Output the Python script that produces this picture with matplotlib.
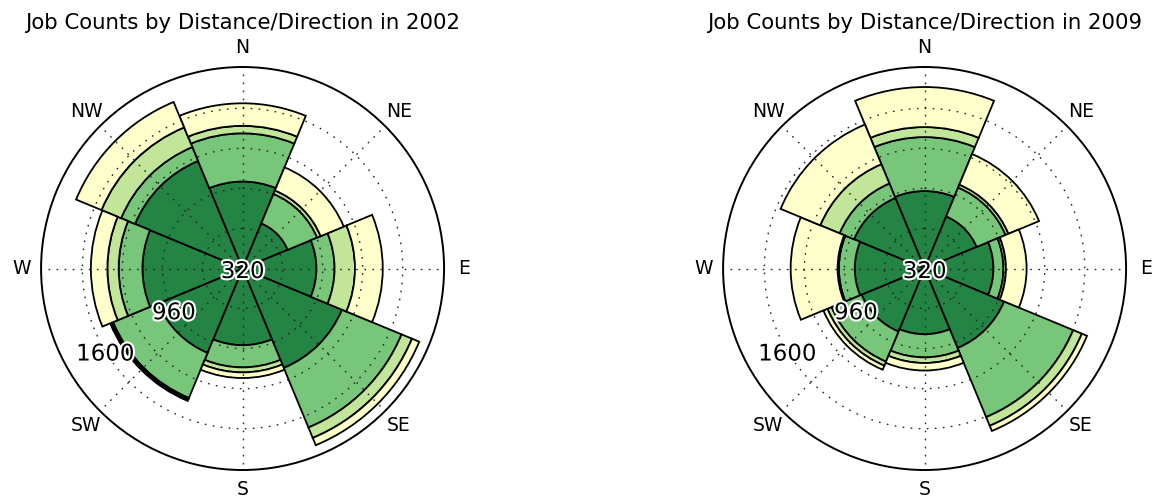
import numpy as np
import matplotlib
matplotlib.use("Agg")
import matplotlib.pyplot as plt
import matplotlib.patheffects as pe
import matplotlib.transforms as mtransforms

directions = ['N', 'NE', 'E', 'SE', 'S', 'SW', 'W', 'NW']
colors = ['#238443', '#78c679', '#c2e699', '#ffffcc']

# job counts per distance band (inner band first), one list per direction
jobs_2002 = [
    [1015, 385, 60, 180],   # N
    [710, 255, 30, 200],    # NE
    [910, 145, 163, 222],   # E
    [1180, 515, 90, 63],    # SE
    [933, 177, 40, 45],     # S
    [1050, 390, 12, 13],    # SW
    [1120, 190, 90, 132],   # W
    [1250, 120, 170, 220],  # NW
]
jobs_2009 = [
    [939, 431, 80, 320],
    [770, 250, 25, 265],
    [870, 80, 20, 165],
    [1008, 597, 75, 45],
    [845, 185, 45, 60],
    [865, 260, 35, 35],
    [878, 127, 10, 375],
    [930, 125, 167, 343],
]
rticks = [320, 640, 960, 1280, 1600]
rtick_labels = ['320', '', '960', '', '1600']
r_min, r_max = 320, 1930

fig = plt.figure(figsize=(11.54, 4.96), dpi=100)


def rose(rect, data, year):
    ax = fig.add_axes(rect, projection='polar')
    ax.set_theta_zero_location('N')
    ax.set_theta_direction(-1)
    theta = np.radians(np.arange(0, 360, 45))
    vals = np.array(data, dtype=float)
    bottom = np.zeros(len(theta))
    for k in range(vals.shape[1]):
        top = bottom + vals[:, k]
        base = np.maximum(bottom, r_min)
        ax.bar(theta, top - base, width=np.pi / 4, bottom=base,
               color=colors[k], edgecolor='k', linewidth=1.3, align='center')
        bottom = top
    ax.set_ylim(r_min, r_max)
    ax.set_xticks(theta)
    ax.set_xticklabels(directions, fontsize=13.5)
    ax.tick_params(axis='x', pad=3.8)
    ax.set_rgrids(rticks, [''] * len(rticks))
    # radius labels, centred on their circle, with a white halo
    tr = mtransforms.offset_copy(ax.transData, fig=fig, y=-3, units='dots')
    for r, lab in zip(rticks, rtick_labels):
        if lab:
            ax.text(np.radians(239), r, lab, transform=tr, fontsize=16.5,
                    ha='center', va='center', zorder=5,
                    path_effects=[pe.withStroke(linewidth=3, foreground='w')])
    ax.grid(True, color='0.15', linestyle=(0, (1.2, 4.6)), linewidth=1)
    ax.spines['polar'].set_linewidth(1.4)
    ax.set_title('Job Counts by Distance/Direction in %d' % year, fontsize=15.3)
    return ax


rose([0.0347, 0.0524, 0.351, 0.8125], jobs_2002, 2002)
rose([0.6257, 0.0524, 0.351, 0.8125], jobs_2009, 2009)

fig.savefig('out.png', dpi=100)
